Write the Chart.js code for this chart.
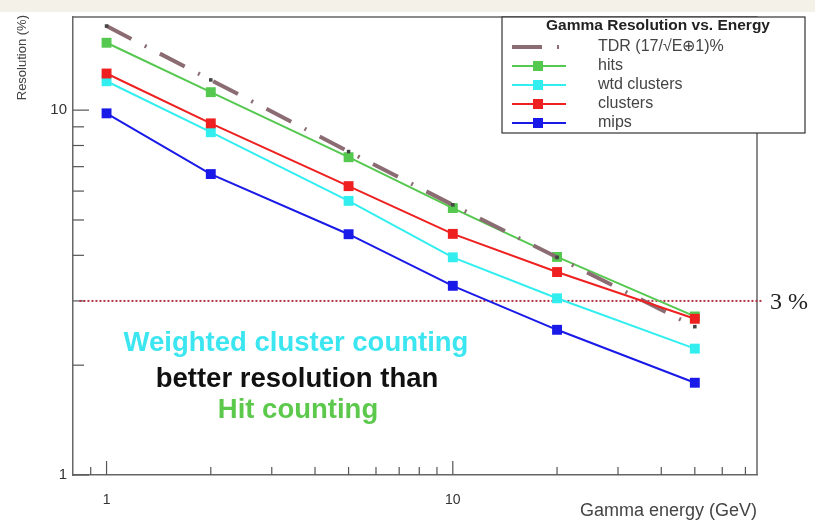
<!DOCTYPE html>
<html>
<head>
<meta charset="utf-8">
<title>Gamma Resolution vs. Energy</title>
<script src="https://cdn.jsdelivr.net/npm/chart.js@4.4.1/dist/chart.umd.min.js"></script>
<style>
  html, body { margin: 0; padding: 0; background: #fff; }
  #wrap { position: relative; width: 815px; height: 522px; }
  canvas { display: block; }
</style>
</head>
<body>
<div id="wrap"><canvas id="resChart" width="815" height="522"></canvas></div>
<script>
// gamma energy (GeV) and resolution (%) per method
const energies = [1, 2, 5, 10, 20, 50];
const tdrRes = [17.0, 12.1, 7.7, 5.5, 3.95, 2.55];
const hitsRes = [15.3, 11.2, 7.43, 5.39, 3.96, 2.72];
const wtdClusterRes = [12.0, 8.7, 5.64, 3.95, 3.05, 2.22];
const clusterRes = [12.6, 9.2, 6.19, 4.58, 3.6, 2.68];
const mipsRes = [9.8, 6.68, 4.57, 3.3, 2.5, 1.79];

const xTickValues = [0.9, 1, 2, 3, 4, 5, 6, 7, 8, 9, 10, 20, 30, 40, 50, 60, 70];
const yTickValues = [1, 2, 3, 4, 5, 6, 7, 8, 9, 10];
const labelledTicks = [1, 10];
const xRange = [0.8, 75.6];
const yRange = [1, 18];

const thresholdValue = 3;
const thresholdSpan = [0.835, 78];

const FONT = "'Liberation Sans', Arial, Helvetica, sans-serif";

function toPoints(values) {
  return energies.map((e, i) => ({ x: e, y: values[i] }));
}

function series(label, values, color, order) {
  return {
    label: label,
    data: toPoints(values),
    borderColor: color,
    backgroundColor: color,
    borderWidth: 2,
    pointStyle: "rect",
    pointRadius: 7,
    pointBorderWidth: 0,
    pointBackgroundColor: color,
    tension: 0,
    order: order
  };
}

const datasets = [
  {
    label: "TDR (17/\u221AE\u22951)%",
    data: toPoints(tdrRes),
    borderColor: "#8a6c72",
    backgroundColor: "#8a6c72",
    borderWidth: 4,
    borderDash: [28, 15, 2, 15],
    pointStyle: "rect",
    pointRadius: 2.5,
    pointBorderWidth: 0,
    pointBackgroundColor: "#444444",
    tension: 0,
    order: 4
  },
  series("hits", hitsRes, "#55c84f", 5),
  series("wtd clusters", wtdClusterRes, "#33eeee", 3),
  series("clusters", clusterRes, "#ee2020", 2),
  series("mips", mipsRes, "#1a1ae8", 1)
];

const decor = {
  id: "decor",
  beforeDraw(chart) {
    const ctx = chart.ctx;
    ctx.save();
    ctx.fillStyle = "#ffffff";
    ctx.fillRect(0, 0, chart.width, chart.height);
    ctx.fillStyle = "#f4f1e9";
    ctx.fillRect(0, 0, chart.width, 12);
    ctx.restore();
  },
  beforeDatasetsDraw(chart) {
    const { ctx, chartArea: a, scales } = chart;
    const xs = scales.x;
    const ys = scales.y;
    ctx.save();

    // top and right frame
    ctx.strokeStyle = "#666";
    ctx.lineWidth = 1.5;
    ctx.beginPath();
    ctx.moveTo(a.left, a.top);
    ctx.lineTo(a.right, a.top);
    ctx.lineTo(a.right, a.bottom);
    ctx.stroke();

    // inward ticks
    ctx.lineWidth = 1.2;
    ctx.strokeStyle = "#555";
    xs.ticks.forEach((t) => {
      const px = xs.getPixelForValue(t.value);
      const len = labelledTicks.includes(t.value) ? 14 : 8;
      ctx.beginPath();
      ctx.moveTo(px, a.bottom);
      ctx.lineTo(px, a.bottom - len);
      ctx.stroke();
    });
    ys.ticks.forEach((t) => {
      const py = ys.getPixelForValue(t.value);
      const len = labelledTicks.includes(t.value) ? 16 : 11;
      ctx.beginPath();
      ctx.moveTo(a.left, py);
      ctx.lineTo(a.left + len, py);
      ctx.stroke();
    });

    // 3 % reference line
    const ty = ys.getPixelForValue(thresholdValue);
    ctx.strokeStyle = "#b03040";
    ctx.lineWidth = 2;
    ctx.setLineDash([2, 2]);
    ctx.beginPath();
    ctx.moveTo(xs.getPixelForValue(thresholdSpan[0]), ty);
    ctx.lineTo(xs.getPixelForValue(thresholdSpan[1]), ty);
    ctx.stroke();
    ctx.setLineDash([]);

    ctx.fillStyle = "#222";
    ctx.font = "24px 'Liberation Serif', 'Times New Roman', serif";
    ctx.textAlign = "left";
    ctx.textBaseline = "middle";
    ctx.fillText("3 %", 770, ty + 2);
    ctx.restore();
  },
  afterDraw(chart) {
    const { ctx, chartArea: a } = chart;
    ctx.save();

    // axis titles
    ctx.fillStyle = "#444";
    ctx.font = "18px " + FONT;
    ctx.textAlign = "right";
    ctx.textBaseline = "middle";
    ctx.fillText("Gamma energy (GeV)", a.right, 511);

    ctx.save();
    ctx.translate(22, 15);
    ctx.rotate(-Math.PI / 2);
    ctx.font = "13px " + FONT;
    ctx.textAlign = "right";
    ctx.fillText("Resolution (%)", 0, 0);
    ctx.restore();

    // legend box
    const box = { left: 502, top: 17, right: 805, bottom: 133 };
    ctx.fillStyle = "#fff";
    ctx.fillRect(box.left, box.top, box.right - box.left, box.bottom - box.top);
    ctx.strokeStyle = "#333";
    ctx.lineWidth = 1.2;
    ctx.strokeRect(box.left, box.top, box.right - box.left, box.bottom - box.top);

    ctx.fillStyle = "#222";
    ctx.font = "bold 15.5px " + FONT;
    ctx.textAlign = "center";
    ctx.fillText("Gamma Resolution vs. Energy", 658, 26);

    const rows = [47, 66, 85, 104, 123];
    datasets.forEach((ds, i) => {
      const y = rows[i];
      ctx.strokeStyle = ds.borderColor;
      if (i === 0) {
        ctx.lineWidth = 4;
        ctx.beginPath();
        ctx.moveTo(512, y);
        ctx.lineTo(542, y);
        ctx.stroke();
        ctx.fillStyle = ds.borderColor;
        ctx.fillRect(557, y - 2, 2, 4);
      } else {
        ctx.lineWidth = 2;
        ctx.beginPath();
        ctx.moveTo(512, y);
        ctx.lineTo(566, y);
        ctx.stroke();
        ctx.fillStyle = ds.borderColor;
        ctx.fillRect(533, y - 5, 10, 10);
      }
      ctx.fillStyle = "#444";
      ctx.font = "16px " + FONT;
      ctx.textAlign = "left";
      ctx.fillText(ds.label, 598, y);
    });

    // annotation
    ctx.textAlign = "center";
    ctx.font = "bold 27.5px " + FONT;
    ctx.fillStyle = "#3ce6f0";
    ctx.fillText("Weighted cluster counting", 296, 343);
    ctx.fillStyle = "#111";
    ctx.fillText("better resolution than", 297, 379);
    ctx.fillStyle = "#5cc94c";
    ctx.fillText("Hit counting", 298, 410);

    ctx.restore();
  }
};

new Chart(document.getElementById("resChart"), {
  type: "line",
  data: { datasets: datasets },
  plugins: [decor],
  options: {
    responsive: false,
    animation: false,
    devicePixelRatio: 1,
    layout: { padding: { top: 17, right: 58, left: 0, bottom: 0 } },
    plugins: {
      legend: { display: false },
      tooltip: { enabled: false },
      title: { display: false }
    },
    scales: {
      x: {
        type: "logarithmic",
        min: xRange[0],
        max: xRange[1],
        afterBuildTicks: (scale) => {
          scale.ticks = xTickValues.map((v) => ({ value: v }));
        },
        afterFit: (scale) => { scale.height = 47; },
        grid: { display: true, drawOnChartArea: false, drawTicks: false },
        border: { display: true, color: "#666", width: 1.5 },
        ticks: {
          autoSkip: false,
          maxRotation: 0,
          padding: 17,
          color: "#333",
          font: { family: FONT, size: 14 },
          callback: (value) => (labelledTicks.includes(value) ? String(value) : "")
        }
      },
      y: {
        type: "logarithmic",
        min: yRange[0],
        max: yRange[1],
        afterBuildTicks: (scale) => {
          scale.ticks = yTickValues.map((v) => ({ value: v }));
        },
        afterFit: (scale) => { scale.width = 73; },
        grid: { display: true, drawOnChartArea: false, drawTicks: false },
        border: { display: true, color: "#666", width: 1.5 },
        ticks: {
          autoSkip: false,
          padding: 6,
          color: "#333",
          font: { family: FONT, size: 15 },
          callback: (value) => (labelledTicks.includes(value) ? String(value) : "")
        }
      }
    }
  }
});
</script>
</body>
</html>
